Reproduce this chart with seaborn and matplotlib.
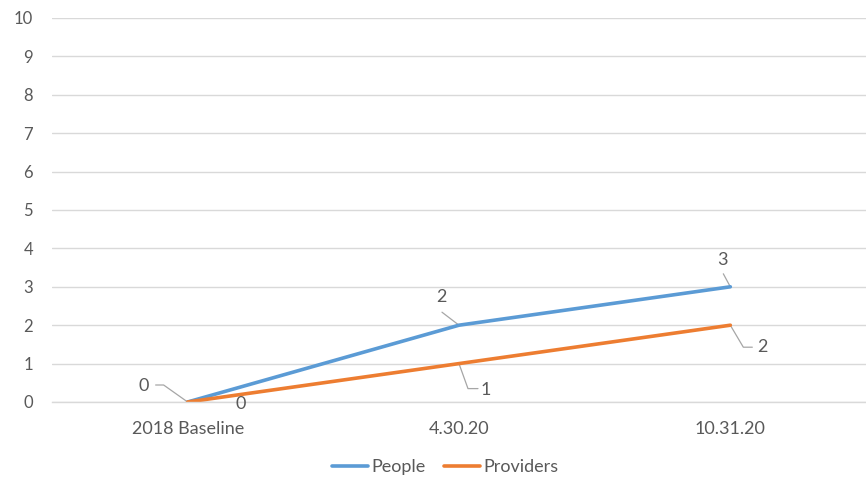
import matplotlib
matplotlib.use("Agg")
import matplotlib.pyplot as plt
import seaborn as sns
import pandas as pd
from matplotlib.lines import Line2D

categories = ["2018 Baseline", "4.30.20", "10.31.20"]
people = [0, 2, 3]
providers = [0, 1, 2]
series_names = ["People", "Providers"]
y_ticks = list(range(0, 11))

colors = {"People": "#5B9BD5", "Providers": "#ED7D31"}
text_color = "#595959"
grid_color = "#D9D9D9"
leader_color = "#A6A6A6"

df = pd.DataFrame({
    "category": categories * 2,
    "value": people + providers,
    "series": [series_names[0]] * 3 + [series_names[1]] * 3,
})

sns.set_theme(style="white")
plt.rcParams["font.family"] = ["Lato", "DejaVu Sans"]

fig = plt.figure(figsize=(8.66, 4.8), dpi=100)
ax = fig.add_axes([0.060, 0.1625, 0.94, 0.80])

sns.lineplot(data=df, x="category", y="value", hue="series", palette=colors,
             linewidth=2.6, ax=ax, sort=False, legend=False,
             solid_capstyle="round", solid_joinstyle="round")

ax.set_xlim(-0.5, 2.5)
ax.set_ylim(0, 10)
ax.set_yticks(y_ticks)
ax.grid(axis="y", color=grid_color, linewidth=1)
ax.set_axisbelow(True)
for s in ["top", "right", "left"]:
    ax.spines[s].set_visible(False)
ax.spines["bottom"].set_color(grid_color)
ax.spines["bottom"].set_linewidth(1)
ax.tick_params(axis="y", length=0, pad=13.5, labelsize=12, labelcolor=text_color)
ax.tick_params(axis="x", length=0, pad=14, labelsize=13, labelcolor=text_color)
ax.set_xlabel("")
ax.set_ylabel("")

# data labels with leader lines: (series values, index, leader path offsets px, label offset px)
label_specs = [
    (people, 0, [(0, 0), (-24, 17), (-32, 17)], (-44, 16)),
    (providers, 0, [(0, 0), (45, -1)], (53, -2)),
    (people, 1, [(0, 0), (-17, 13)], (-18, 28)),
    (providers, 1, [(0, 0), (9, -25), (19, -25)], (27, -26)),
    (people, 2, [(0, 0), (-7, 13)], (-8, 27)),
    (providers, 2, [(0, 0), (13, -22), (22, -22)], (32, -22)),
]
inv = ax.transData.inverted()
for vals, i, path, lab in label_specs:
    base = ax.transData.transform((i, vals[i]))
    dpts = [inv.transform(base + [dx, dy]) for dx, dy in path]
    ax.plot([p[0] for p in dpts], [p[1] for p in dpts], color=leader_color,
            linewidth=0.9, zorder=1)
    ax.annotate(str(vals[i]), xy=(i, vals[i]), xytext=lab, textcoords="offset pixels",
                ha="center", va="center", fontsize=13, color=text_color)

# legend
handles = [Line2D([0], [0], color=colors[n], linewidth=2.6) for n in series_names]
fig.legend(handles, series_names, loc="center", bbox_to_anchor=(0.514, 0.027),
           ncol=2, frameon=False, fontsize=13, labelcolor=text_color,
           handlelength=2.0, handletextpad=0.2, columnspacing=1.0)

fig.savefig("out.png", dpi=100)
